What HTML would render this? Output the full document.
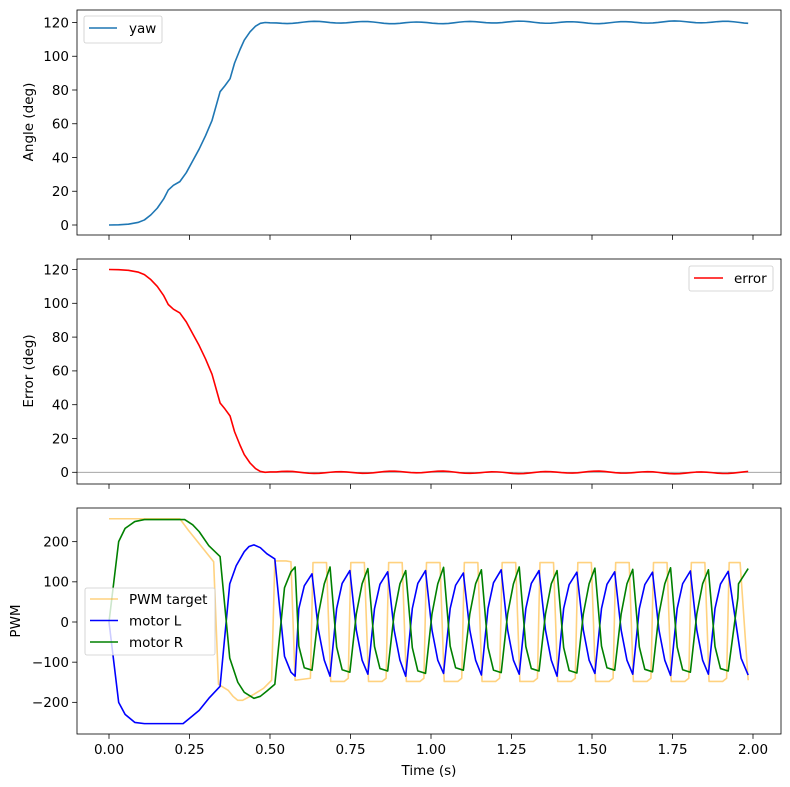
<!DOCTYPE html>
<html><head><meta charset="utf-8"><style>
html,body{margin:0;padding:0;background:#fff}
svg{display:block;font-family:"DejaVu Sans","Liberation Sans",sans-serif}
text{font-size:13.5px;fill:#000}
</style></head><body>
<svg id="s" width="790" height="787" viewBox="0 0 790 787" xmlns="http://www.w3.org/2000/svg">
<rect width="790" height="787" fill="#fff"/>
<g id="g"></g>
</svg>
<script>
var g=document.getElementById('g');
var X=function(t){return 109+t*322;};
var out='';
function path(pts,fx,fy,col,w,op){
  var d='';for(var i=0;i<pts.length;i++){d+=(i?'L':'M')+fx(pts[i][0]).toFixed(2)+' '+fy(pts[i][1]).toFixed(2);}
  out+='<path d="'+d+'" fill="none" stroke="'+col+'" stroke-width="'+w+'" stroke-linejoin="round"'+(op?' stroke-opacity="'+op+'"':'')+'/>';
}
var yawK=[[0,0],[0.03,0.1],[0.06,0.5],[0.09,1.5],[0.11,3],[0.13,6],[0.15,10],[0.17,15.5],[0.184,20.7],[0.2,23.5],[0.22,25.7],[0.24,31],[0.26,38],[0.28,45],[0.30,53],[0.32,62],[0.345,79],[0.36,82.5],[0.376,86.7],[0.39,96],[0.407,104],[0.42,109.5],[0.438,114.5],[0.455,117.8],[0.47,119.5],[0.485,120],[0.5,119.8]];
var yaw=yawK.slice();
function yv(t){return 120+0.55*Math.sin(2*Math.PI*(t-0.5)/0.16+2.5)+0.25*Math.sin(2*Math.PI*t/0.55)+0.16*(t-1);}
for(var t=0.52;t<=1.975;t+=0.0167){yaw.push([t,yv(t)]);}
yaw.push([1.985,yv(1.985)]);
var err=yaw.map(function(p){return [p[0],120-p[1]];});
var L=[[0,0],[0.015,-100],[0.03,-200],[0.05,-230],[0.08,-250],[0.11,-253],[0.23,-253],[0.25,-240],[0.28,-220],[0.31,-190],[0.345,-160],[0.375,95],[0.395,140],[0.42,175],[0.435,188],[0.45,192],[0.47,185],[0.49,170],[0.515,157],[0.545,-85],[0.565,-125],[0.578,-135]];
var R=[[0,0],[0.015,100],[0.03,200],[0.05,233],[0.08,250],[0.11,255],[0.235,255],[0.26,242],[0.28,225],[0.31,190],[0.345,163],[0.375,-90],[0.40,-150],[0.42,-175],[0.45,-190],[0.47,-185],[0.49,-172],[0.515,-155],[0.545,85],[0.565,125],[0.578,137]];
var O=[[0,257],[0.22,257],[0.245,230],[0.26,215],[0.325,150],[0.34,-155],[0.37,-170],[0.385,-185],[0.40,-195],[0.415,-195],[0.45,-180],[0.48,-165],[0.505,-145],[0.515,152],[0.55,152],[0.565,150],[0.578,-145]];
var P=0.1175,pk=1.923-11*P;
var peaks=[];for(var k=0;k<12;k++)peaks.push(pk+k*P);
var ampL=[120,128,125,128,122,130,128,124,125,124,127,126],ampT=[-135,-130,-135,-128,-132,-130,-135,-128,-130,-133,-130,-132];
var ampG=[137,133,128,136,130,137,128,134,131,135,130,133],ampGt=[-120,-125,-122,-128,-120,-126,-122,-127,-120,-124,-125,-122];
for(var k=0;k<peaks.length;k++){
  var p=peaks[k];if(p>1.99)break;
  var tr0=p-0.058;
  L.push([tr0+0.017,ampT[k]*0.05+40],[tr0+0.034,ampL[k]*0.75],[p,ampL[k]]);
  R.push([tr0+0.017,ampGt[k]*0.5],[tr0+0.034,ampGt[k]*0.95],[p,ampGt[k]]);
  O.push([p-0.005,-140],[p+0.003,148]);
  var tr=p+0.056;
  if(tr<=1.975){
    O.push([p+0.045,148]);
    L.push([p+0.02,-20],[p+0.038,-95],[tr,ampT[k]]);
    R.push([p+0.02,20],[p+0.038,95],[tr,ampG[k]]);
    O.push([p+0.058,-148],[p+0.1,-148]);
  } else {
    L.push([p+0.04,-90],[1.985,-132]);R.push([p+0.03,60],[1.955,95],[1.985,133]);O.push([1.96,148],[1.985,-145]);
  }
}
var Ty=function(v){return 225-v*1.6875;};
var My=function(v){return 472.3-v*1.69;};
var By=function(v){return 622-v*0.4017;};
function axes(y0,y1,ticks,fy,labels){
  for(var i=0;i<9;i++){var x=X(i*0.25);out+='<line x1="'+x+'" y1="'+y1+'" x2="'+x+'" y2="'+(y1+4.9)+'" stroke="#000" stroke-width="0.8"/>';
    if(labels)out+='<text x="'+x+'" y="'+(y1+20)+'" text-anchor="middle">'+(i*0.25).toFixed(2)+'</text>';}
  ticks.forEach(function(v){var y=fy(v);out+='<line x1="72.1" y1="'+y+'" x2="77" y2="'+y+'" stroke="#000" stroke-width="0.8"/><text x="69" y="'+(y+4.8)+'" text-anchor="end">'+(v<0?'\u2212'+(-v):v)+'</text>';});
}
out+='<line x1="77" y1="'+My(0)+'" x2="781" y2="'+My(0)+'" stroke="#999" stroke-width="0.8"/>';
path(yaw,X,Ty,'#1f77b4',1.6);
path(err,X,My,'#ff0000',1.6);
path(O,X,By,'#ffa500',1.6,0.5);
path(L,X,By,'#0000ff',1.6);
path(R,X,By,'#008000',1.6);
var fr=function(y0,y1){out+='<rect x="77" y="'+y0+'" width="704" height="'+(y1-y0)+'" fill="none" stroke="#000" stroke-width="0.8"/>';};
fr(10,235);fr(259,484);fr(508,734);
axes(10,235,[0,20,40,60,80,100,120],Ty,false);
axes(259,484,[0,20,40,60,80,100,120],My,false);
axes(508,734,[-200,-100,0,100,200],By,true);
out+='<rect x="84" y="16" width="78" height="27" rx="2" fill="#fff" fill-opacity="0.8" stroke="#ccc" stroke-width="0.8"/><line x1="89" y1="28" x2="117" y2="28" stroke="#1f77b4" stroke-width="1.6"/><text x="129" y="33">yaw</text>';
out+='<rect x="689" y="266" width="84" height="25" rx="2" fill="#fff" fill-opacity="0.8" stroke="#ccc" stroke-width="0.8"/><line x1="694" y1="278" x2="723" y2="278" stroke="#ff0000" stroke-width="1.6"/><text x="734" y="283">error</text>';
out+='<rect x="85" y="588" width="130" height="67" rx="2" fill="#fff" fill-opacity="0.8" stroke="#ccc" stroke-width="0.8"/>';
out+='<line x1="90" y1="599" x2="118" y2="599" stroke="#ffa500" stroke-opacity="0.5" stroke-width="1.6"/><text x="129" y="604">PWM target</text>';
out+='<line x1="90" y1="620.5" x2="118" y2="620.5" stroke="#0000ff" stroke-width="1.6"/><text x="129" y="625.5">motor L</text>';
out+='<line x1="90" y1="642" x2="118" y2="642" stroke="#008000" stroke-width="1.6"/><text x="129" y="647">motor R</text>';
out+='<text transform="translate(33,122) rotate(-90)" text-anchor="middle">Angle (deg)</text>';
out+='<text transform="translate(33,371) rotate(-90)" text-anchor="middle">Error (deg)</text>';
out+='<text transform="translate(20,621) rotate(-90)" text-anchor="middle">PWM</text>';
out+='<text x="429" y="775" text-anchor="middle">Time (s)</text>';
g.innerHTML=out;
</script>
</body></html>
